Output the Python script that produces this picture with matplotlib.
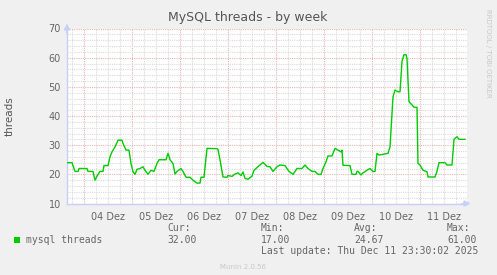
import matplotlib
matplotlib.use("Agg")
import matplotlib.pyplot as plt
from matplotlib.patches import Rectangle

# ---------------- data
# hours after 04 Dez 00:00 (graph runs 03 Dez 15:30 -> 11 Dez 23:30)
hours = [-8.5, -6, -4.5, -3, -2.5, 1.5, 2, 4.5, 5.5, 6.5, 8, 9.5, 10, 12, 13, 14,
         15.5, 17, 19, 19.5, 21, 22.5, 23.5, 24.5, 25.5, 26.5, 28, 29.5, 30.5, 32,
         33.5, 35, 36.5, 37.5, 41, 42, 43, 44.5, 45.5, 46.5, 48.5, 49.5, 51, 53,
         54.5, 56.5, 58, 58.5, 60, 61.5, 66.5, 67, 68, 69.5, 71.5, 72, 74, 75.5,
         77, 78.5, 79.5, 80.5, 82, 84, 85, 87, 89.5, 91.5, 93, 94.5, 96.5, 98,
         100.5, 102.5, 104.5, 106.5, 109, 110.5, 112, 114, 115.5, 117, 118.5,
         119.5, 121, 122, 124, 125.5, 127, 128.5, 129, 129.5, 133, 134, 136,
         136.5, 137, 138.5, 139.5, 141.5, 143, 144.5, 145.5, 146.5, 147.5, 152,
         153, 154.5, 155.5, 157, 158, 159, 160, 161, 161.5, 162.5, 164, 165,
         166.5, 167, 168, 169.5, 171.5, 172, 175.5, 176.5, 177.5, 180.5, 181.5,
         184, 185, 186.5, 187.5, 190.5]
threads = [24, 24, 21, 21, 22, 22, 21, 21, 18, 19.4, 21, 21, 23, 23, 26, 27.7,
           29.4, 31.7, 31.7, 30.6, 28.3, 28.3, 23.7, 20.9, 20, 21.7, 22, 22.6, 21.4, 20,
           21.4, 21, 23.7, 25, 25, 27.2, 25, 23.7, 20.1, 21, 22, 21, 19, 19,
           18, 17, 17, 19, 19, 28.9, 28.8, 28.5, 25, 19.1, 19, 19.6, 19.3, 20.1,
           20.5, 19.6, 20.8, 18.6, 18.3, 19.4, 21.4, 22.6, 24.1, 22.7, 22.6, 21, 22.6, 23.2,
           23, 21, 20, 22, 22, 23.2, 22, 21, 21, 20, 20,
           22, 24.3, 26.3, 26.3, 28.9, 28.3, 27.7, 28.3, 23.1, 23, 20, 20,
           21, 21, 19.8, 20.5, 21.4, 22, 21, 21, 27.2, 26.6, 27.2,
           29.4, 46.6, 48.9, 48.3, 48.3, 58.7, 61, 61, 59.8, 44.9, 43.8, 43,
           43, 23.7, 23.2, 21.4, 20.9, 19.1, 19.1, 21, 24, 24, 23.2,
           23.2, 32, 32.9, 32, 32]

day_labels = ["04 Dez", "05 Dez", "06 Dez", "07 Dez", "08 Dez", "09 Dez", "10 Dez", "11 Dez"]
y_ticks = [10, 20, 30, 40, 50, 60, 70]

cur_val = "32.00"
min_val = "17.00"
avg_val = "24.67"
max_val = "61.00"
last_update = "Last update: Thu Dec 11 23:30:02 2025"

# ---------------- colours (munin defaults)
BACK = "#F0F0F0"
FONT = "#666666"
AXIS = "#C8D0F8"
GRID = "#DADADA"
MGRID = "#EAB4B4"
LINE = "#00CC00"

W, H = 497, 275


def fx(x):
    return x / W


def fy(y):
    return 1 - y / H


fig = plt.figure(figsize=(W / 100, H / 100), dpi=100, facecolor=BACK)
ax = fig.add_axes([fx(67), fy(203.5), 400 / W, 175 / H])
ax.set_facecolor("white")

ax.plot(hours, threads, color=LINE, lw=1.0, zorder=5)

ax.set_xlim(-8.5, 191.5)
ax.set_ylim(10, 70)

# grid: midnight = major, 6h = minor
ax.set_xticks(range(0, 192, 24))
ax.set_xticks(range(-6, 192, 6), minor=True)
ax.set_yticks(y_ticks)
ax.set_yticks(range(10, 71, 2), minor=True)
ax.grid(which="minor", color=GRID, lw=0.8, ls=(0, (1, 1)))
ax.grid(which="major", color=MGRID, lw=0.8, ls=(0, (1, 1)))
ax.set_axisbelow(True)

ax.tick_params(which="both", length=0)
ax.tick_params(axis="y", labelsize=7, labelcolor=FONT, pad=4.5)
ax.set_xticklabels([])
for i, lab in enumerate(day_labels):
    ax.text(12 + 24 * i, -0.05, lab, transform=ax.get_xaxis_transform(),
            ha="center", va="top", fontsize=7, color=FONT)

for s in ["top", "right"]:
    ax.spines[s].set_visible(False)
for s in ["left", "bottom"]:
    ax.spines[s].set_color(AXIS)
    ax.spines[s].set_linewidth(1)

# arrows at axis ends
ax.annotate("", xy=(0, 1.045), xytext=(0, 0.95), xycoords="axes fraction",
            arrowprops=dict(arrowstyle="-|>", color=AXIS, lw=1, mutation_scale=9))
ax.annotate("", xy=(1.016, 0), xytext=(0.98, 0), xycoords="axes fraction",
            arrowprops=dict(arrowstyle="-|>", color=AXIS, lw=1, mutation_scale=9))

# titles
fig.text(fx(248), fy(17), "MySQL threads - by week", ha="center", va="center",
         fontsize=9, color="#555555")
fig.text(fx(10), fy(116), "threads", rotation=90, ha="center", va="center",
         fontsize=7.5, color="#555555")
fig.text(fx(488), fy(53), "RRDTOOL / TOBI OETIKER", rotation=270, ha="center",
         va="center", fontsize=5, color="#C8C8C8")
fig.text(fx(243), fy(267), "Munin 2.0.56", ha="center", va="center",
         fontsize=5, color="#C8C8C8")

# legend block
mono = "DejaVu Sans Mono"
fig.patches.append(Rectangle((fx(14), fy(243)), 6 / W, 6 / H, transform=fig.transFigure,
                             facecolor=LINE, edgecolor="none"))
fig.text(fx(26), fy(240), "mysql threads", family=mono, fontsize=7, color=FONT, va="center")
for x, head, val in [(167, "Cur:", cur_val), (261, "Min:", min_val),
                     (354, "Avg:", avg_val), (447, "Max:", max_val)]:
    fig.text(fx(x), fy(228), head, family=mono, fontsize=7, color=FONT, va="center")
    fig.text(fx(x), fy(240), val, family=mono, fontsize=7, color=FONT, va="center")
fig.text(fx(261), fy(251.5), last_update, family=mono, fontsize=7, color=FONT, va="center")

fig.savefig("out.png", dpi=100, facecolor=BACK)
